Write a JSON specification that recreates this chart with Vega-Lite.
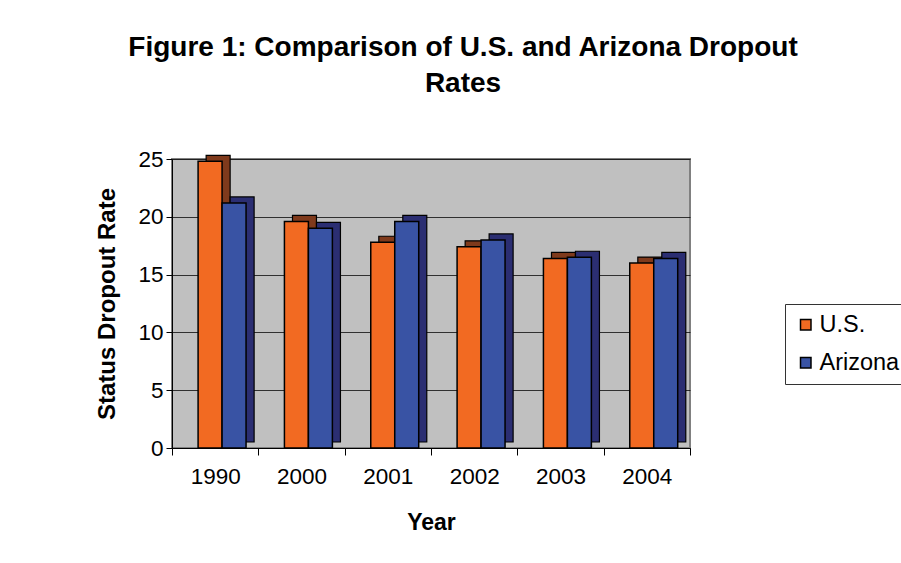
{
  "$schema": "https://vega.github.io/schema/vega-lite/v6.json",
  "width": 518,
  "height": 289,
  "autosize": "none",
  "padding": {"left": 172, "top": 159, "right": 211, "bottom": 115},
  "background": "white",
  "title": {
    "text": ["Figure 1: Comparison of U.S. and Arizona Dropout", "Rates"],
    "font": "Liberation Sans",
    "fontSize": 28,
    "fontWeight": "bold",
    "color": "black",
    "anchor": "middle",
    "dx": 32,
    "lineHeight": 36,
    "offset": 50
  },
  "data": {
    "values": [
      {"year": "1990", "series": "U.S.", "rate": 24.8},
      {"year": "1990", "series": "Arizona", "rate": 21.2},
      {"year": "2000", "series": "U.S.", "rate": 19.6},
      {"year": "2000", "series": "Arizona", "rate": 19.0},
      {"year": "2001", "series": "U.S.", "rate": 17.8},
      {"year": "2001", "series": "Arizona", "rate": 19.6},
      {"year": "2002", "series": "U.S.", "rate": 17.4},
      {"year": "2002", "series": "Arizona", "rate": 18.0},
      {"year": "2003", "series": "U.S.", "rate": 16.4},
      {"year": "2003", "series": "Arizona", "rate": 16.5},
      {"year": "2004", "series": "U.S.", "rate": 16.0},
      {"year": "2004", "series": "Arizona", "rate": 16.4}
    ]
  },
  "encoding": {
    "x": {
      "field": "year",
      "type": "nominal",
      "scale": {"paddingInner": 0, "paddingOuter": 0},
      "axis": {
        "title": "Year",
        "labelAngle": 0,
        "labelFontSize": 22.5,
        "labelPadding": 10,
        "tickBand": "extent",
        "tickSize": 7,
        "titleFontSize": 23,
        "titleFontWeight": "bold",
        "titlePadding": 24,
        "grid": false
      }
    },
    "y": {
      "field": "rate",
      "type": "quantitative",
      "scale": {"domain": [0, 25], "nice": false},
      "axis": {
        "title": "Status Dropout Rate",
        "values": [0, 5, 10, 15, 20, 25],
        "labelFontSize": 22.5,
        "labelPadding": 3,
        "tickSize": 6,
        "titleFontSize": 24,
        "titleFontWeight": "bold",
        "titlePadding": 18,
        "grid": true,
        "gridColor": "#000000",
        "gridOpacity": 0.75
      }
    }
  },
  "layer": [
    {
      "mark": {"type": "bar", "yOffset": -6, "stroke": "black", "strokeWidth": 1.2},
      "encoding": {
        "xOffset": {
          "field": "series",
          "type": "nominal",
          "sort": ["U.S.", "Arizona"],
          "scale": {"paddingInner": 0, "paddingOuter": 0.8, "align": 0.89}
        },
        "color": {
          "field": "series",
          "type": "nominal",
          "scale": {"domain": ["U.S.", "Arizona"], "range": ["#7f3a1c", "#2b2e72"]},
          "legend": null
        }
      }
    },
    {
      "mark": {"type": "bar", "stroke": "black", "strokeWidth": 1.5},
      "encoding": {
        "xOffset": {
          "field": "series",
          "type": "nominal",
          "sort": ["U.S.", "Arizona"],
          "scale": {"paddingInner": 0, "paddingOuter": 0.8, "align": 0.68}
        },
        "color": {
          "field": "series",
          "type": "nominal",
          "scale": {"domain": ["U.S.", "Arizona"], "range": ["#f26a22", "#3953a4"]},
          "legend": {
            "orient": "none",
            "legendX": 613,
            "legendY": 145,
            "title": null,
            "symbolType": "square",
            "symbolSize": 110,
            "symbolStrokeColor": "black",
            "symbolStrokeWidth": 1.5,
            "labelFontSize": 23.5,
            "labelFont": "Liberation Sans",
            "labelColor": "black",
            "strokeColor": "#333333",
            "fillColor": "white",
            "padding": 9,
            "rowPadding": 13,
            "labelOffset": 2
          }
        }
      }
    }
  ],
  "resolve": {
    "scale": {"color": "independent", "xOffset": "independent"},
    "legend": {"color": "independent"}
  },
  "config": {
    "font": "Liberation Sans",
    "view": {"fill": "#c0c0c0", "stroke": "#808080", "strokeWidth": 2},
    "axis": {
      "domainColor": "black",
      "tickColor": "black",
      "labelColor": "black",
      "titleColor": "black",
      "labelFont": "Liberation Sans",
      "titleFont": "Liberation Sans"
    }
  }
}
